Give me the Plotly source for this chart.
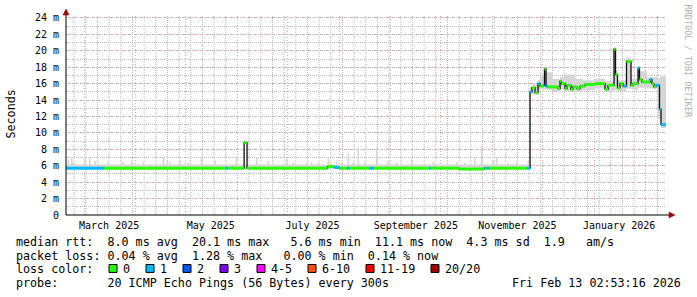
import plotly.graph_objects as go
import pandas as pd

# ---------------- data ----------------
range_start = "2025-02-18 02:53"
range_end = "2026-02-13 02:53"

med_dates = [
    "2025-02-18 02:53", "2025-03-13 00:00", "2025-05-25 00:00", "2025-05-26 06:00",
    "2025-06-05 00:00", "2025-06-06 18:00", "2025-07-25 00:00", "2025-07-29 00:00",
    "2025-08-01 00:00", "2025-08-06 00:00", "2025-08-07 00:00", "2025-08-19 00:00",
    "2025-08-21 12:00", "2025-09-24 00:00", "2025-09-25 00:00", "2025-10-12 00:00",
    "2025-10-27 00:00", "2025-10-28 00:00", "2025-10-29 00:00", "2025-10-30 00:00",
    "2025-11-22 00:00",
    "2025-11-23 13:00", "2025-11-24 17:00", "2025-11-26 13:00", "2025-11-28 08:00",
    "2025-11-29 13:00", "2025-12-01 08:00", "2025-12-02 05:00", "2025-12-03 03:00",
    "2025-12-04 08:00", "2025-12-10 08:00", "2025-12-11 13:00", "2025-12-12 10:00",
    "2025-12-14 13:00", "2025-12-15 17:00", "2025-12-18 03:00", "2025-12-19 08:00",
    "2025-12-21 17:00", "2025-12-23 13:00", "2025-12-26 13:00", "2026-01-01 13:00",
    "2026-01-07 13:00", "2026-01-09 08:00", "2026-01-12 22:00", "2026-01-13 20:00",
    "2026-01-15 00:00", "2026-01-16 13:00", "2026-01-18 08:00", "2026-01-20 10:00",
    "2026-01-23 03:00", "2026-01-24 08:00", "2026-01-27 08:00", "2026-01-28 05:00",
    "2026-01-29 17:00", "2026-02-03 13:00", "2026-02-04 17:00", "2026-02-05 22:00",
    "2026-02-07 03:00", "2026-02-09 05:00", "2026-02-10 03:00",
]
# median rtt in ms
med_vals = [
    5.7, 5.7, 5.7, 5.7,
    8.8, 5.7, 5.9, 5.8,
    5.7, 5.7, 5.7, 5.7,
    5.7, 5.7, 5.7, 5.6,
    5.7, 5.7, 5.7, 5.7,
    5.7,
    15.0, 15.5, 14.9, 16.0,
    15.7, 15.8, 17.8, 15.7,
    15.6, 15.4, 16.3, 16.0,
    15.4, 15.8, 15.3, 15.6,
    15.4, 15.7, 15.9, 16.0,
    15.3, 15.8, 20.2, 17.1,
    15.5, 16.0, 15.7, 18.7,
    15.8, 16.0, 17.9, 16.5,
    16.2, 16.5, 16.0, 15.6,
    15.8, 12.9, 11.0,
]
# loss class index per segment (0 -> "0", 1 -> "1", ...)
med_loss = [
    1, 0, 1, 0,
    0, 0, 0, 1,
    0, 1, 0, 1,
    0, 1, 0, 0,
    1, 0, 1, 0,
    1,
    1, 0, 0, 1,
    0, 1, 0, 1,
    0, 0, 0, 0,
    0, 0, 0, 0,
    0, 0, 0, 0,
    0, 0, 0, 0,
    0, 0, 1, 0,
    0, 0, 1, 0,
    0, 1, 0, 0,
    1, 1, 1,
]

# smoke (ping spread) for the low period
low_smoke_bottom = 5.6
low_smoke_top = 6.15
low_spike_dates = [
    "2025-02-19", "2025-02-21", "2025-02-22", "2025-03-01", "2025-03-04", "2025-03-07",
    "2025-03-15", "2025-03-24", "2025-03-29", "2025-04-05", "2025-04-17", "2025-04-21",
    "2025-04-27", "2025-05-02", "2025-05-10", "2025-05-18", "2025-05-31", "2025-06-12",
    "2025-06-19", "2025-06-30", "2025-07-04", "2025-07-12", "2025-07-15", "2025-07-19",
    "2025-07-25", "2025-07-30", "2025-08-02", "2025-08-06", "2025-08-09", "2025-08-12",
    "2025-08-16", "2025-08-23", "2025-08-30", "2025-09-04", "2025-09-13", "2025-09-26",
    "2025-10-10", "2025-10-15", "2025-10-21", "2025-10-25", "2025-11-01", "2025-11-03",
    "2025-11-10", "2025-11-15", "2025-11-22",
]
low_spike_tops = [
    6.8, 7.0, 6.4, 6.9, 6.9, 6.6,
    6.4, 6.5, 6.4, 6.4, 7.1, 6.5,
    6.6, 6.4, 7.0, 6.6, 7.0, 7.0,
    6.6, 6.9, 6.5, 6.4, 6.5, 6.4,
    6.9, 6.6, 6.4, 7.5, 6.4, 8.2,
    6.5, 8.2, 6.6, 6.4, 6.75, 6.5,
    6.5, 6.4, 7.0, 8.4, 6.6, 7.0,
    6.4, 6.5, 6.6,
]

# smoke for the high period
high_smoke_dates = [
    "2025-11-23 13:00", "2025-11-25 00:00", "2025-11-28 08:00", "2025-11-29 13:00",
    "2025-12-02 05:00", "2025-12-03 03:00", "2025-12-07 03:00", "2025-12-11 13:00",
    "2025-12-14 13:00", "2025-12-20 13:00", "2025-12-25 08:00", "2026-01-01 13:00",
    "2026-01-07 13:00", "2026-01-12 22:00", "2026-01-13 20:00", "2026-01-15 00:00",
    "2026-01-20 10:00", "2026-01-23 03:00", "2026-01-27 08:00", "2026-01-28 05:00",
    "2026-02-01 17:00", "2026-02-08 08:00", "2026-02-10 03:00",
]
high_smoke_lo = [14.8, 14.7, 15.2, 15.3, 15.3, 15.2, 15.1, 15.3, 15.1, 15.0, 15.2, 15.4,
                 15.0, 15.2, 15.2, 15.1, 15.4, 15.3, 15.5, 15.5, 15.4, 11.7, 10.6]
high_smoke_hi = [15.6, 16.0, 16.4, 16.9, 18.0, 17.4, 16.6, 16.8, 17.1, 16.6, 16.4, 16.6,
                 16.3, 20.0, 17.6, 16.4, 19.2, 16.6, 18.2, 17.5, 16.8, 16.7, 16.9]

y_tickvals = [0, 2, 4, 6, 8, 10, 12, 14, 16, 18, 20, 22, 24]
y_ticktext = ["0", "2 m", "4 m", "6 m", "8 m", "10 m", "12 m", "14 m", "16 m",
              "18 m", "20 m", "22 m", "24 m"]
month_label_dates = ["2025-03-16", "2025-05-16", "2025-07-16",
                     "2025-09-16", "2025-11-16", "2026-01-16"]
month_labels = ["March 2025", "May 2025", "July 2025",
                "September 2025", "November 2025", "January 2026"]
first_week_line = "2025-02-23"   # weekly grid runs on Sundays

loss_classes = ["0", "1", "2", "3", "4-5", "6-10", "11-19", "20/20"]
loss_colors = ["#26ff00", "#00b8ff", "#0059ff", "#7e00ff",
               "#ff00ff", "#ff5500", "#ff0000", "#a10000"]

line_rtt = "median rtt:  8.0 ms avg  20.1 ms max   5.6 ms min  11.1 ms now  4.3 ms sd  1.9   am/s"
line_loss = "packet loss: 0.04 % avg  1.28 % max   0.00 % min  0.14 % now"
line_color_label = "loss color:"
line_probe = "probe:       20 ICMP Echo Pings (56 Bytes) every 300s"
stamp = "Fri Feb 13 02:53:16 2026"
y_title = "Seconds"
watermark = "RRDTOOL / TOBI OETIKER"

# ---------------- geometry helpers ----------------
W, H = 697, 297
L, R, T, B = 66, 31, 14, 82
PW, PH = W - L - R, H - T - B
MONO = "DejaVu Sans Mono, monospace"
Y_TOP = 24.24


def px(x):
    return (x - L) / PW


def py(y):
    return (H - B - y) / PH


def nb(s):
    return s.replace(" ", "\u00a0")


fig = go.Figure()

# ---------------- smoke ----------------
sx, slo, shi = [], [], []
t = pd.Timestamp(range_start)
for d, top in zip(low_spike_dates, low_spike_tops):
    d = pd.Timestamp(d)
    if d > t:
        sx.append(t); slo.append(low_smoke_bottom); shi.append(low_smoke_top)
    sx.append(d); slo.append(low_smoke_bottom); shi.append(top)
    t = d + pd.Timedelta(days=1)
sx.append(t); slo.append(low_smoke_bottom); shi.append(low_smoke_top)
for d, lo, hi in zip(high_smoke_dates, high_smoke_lo, high_smoke_hi):
    sx.append(pd.Timestamp(d)); slo.append(lo); shi.append(hi)
sx.append(pd.Timestamp(range_end)); slo.append(high_smoke_lo[-1]); shi.append(high_smoke_hi[-1])
sx = [s.strftime("%Y-%m-%d %H:%M") for s in sx]

fig.add_trace(go.Scatter(x=sx, y=slo, mode="lines", line=dict(width=0, shape="hv"),
                         hoverinfo="skip", showlegend=False))
fig.add_trace(go.Scatter(x=sx, y=shi, mode="lines", line=dict(width=0, shape="hv"),
                         fill="tonexty", fillcolor="#d6d6d6", hoverinfo="skip",
                         showlegend=False))

# ---------------- median ----------------
fig.add_trace(go.Scatter(x=med_dates + [range_end], y=med_vals + [med_vals[-1]],
                         mode="lines", line=dict(color="#101010", width=1.3, shape="hv"),
                         hoverinfo="skip", showlegend=False))

seg_end = med_dates[1:] + [range_end]
for k, col in enumerate(loss_colors):
    xs, ys = [], []
    for d0, d1, v, l in zip(med_dates, seg_end, med_vals, med_loss):
        if l == k:
            xs += [d0, d1, None]
            ys += [v, v, None]
    if xs:
        fig.add_trace(go.Scatter(x=xs, y=ys, mode="lines",
                                 line=dict(color=col, width=3),
                                 hoverinfo="skip", showlegend=False))

# empty trace so the label axis exists
fig.add_trace(go.Scatter(x=[range_start], y=[None], xaxis="x2", mode="lines",
                         showlegend=False, hoverinfo="skip"))

grid_major = "#e6a8a8"
grid_minor = "#bbbbbb"

fig.update_layout(
    width=W, height=H,
    margin=dict(l=L, r=R, t=T, b=B, pad=0),
    paper_bgcolor="white", plot_bgcolor="white",
    showlegend=False,
    font=dict(family=MONO, size=10, color="#000"),
    xaxis=dict(
        type="date", range=[range_start, range_end],
        dtick="M1", tick0="2025-01-01",
        showgrid=True, gridcolor=grid_major, griddash="1px,2px", gridwidth=1,
        showticklabels=False, ticks="", showline=False, zeroline=False,
    ),
    xaxis2=dict(
        type="date", range=[range_start, range_end], overlaying="x", anchor="y",
        side="bottom", tickmode="array", tickvals=month_label_dates,
        ticktext=month_labels, showgrid=False, ticks="", showline=False,
        zeroline=False, tickfont=dict(family=MONO, size=10, color="#000"),
        ticklabelstandoff=3,
    ),
    yaxis=dict(
        range=[0, Y_TOP], tickmode="array", tickvals=y_tickvals, ticktext=y_ticktext,
        showgrid=True, gridcolor=grid_major, griddash="1px,2px", gridwidth=1,
        minor=dict(tickmode="linear", tick0=0, dtick=1, showgrid=True,
                   gridcolor=grid_minor, griddash="1px,1px", gridwidth=1),
        ticks="", showline=False, zeroline=False,
        tickfont=dict(family=MONO, size=10, color="#000"),
        ticklabelstandoff=6,
    ),
)

shapes = []
# weekly minor grid (vertical), below the data, in data coordinates of the main subplot
for wk in pd.date_range(first_week_line, range_end, freq="7D"):
    if wk.day == 1:
        continue
    d = wk.strftime("%Y-%m-%d")
    shapes.append(dict(type="line", xref="x", yref="y", x0=d, x1=d, y0=0, y1=Y_TOP,
                       layer="below", line=dict(color=grid_minor, width=1, dash="1px,1px")))

# ---------------- axes lines with arrows ----------------
arrow = "#990000"
shapes += [
    dict(type="line", xref="paper", yref="paper", x0=0, x1=0, y0=0, y1=py(12),
         line=dict(color="#000", width=1)),
    dict(type="line", xref="paper", yref="paper", x0=0, x1=px(670), y0=0, y1=0,
         line=dict(color="#000", width=1)),
    dict(type="path", xref="paper", yref="paper",
         path=f"M {px(63)} {py(13)} L {px(69)} {py(13)} L {px(66)} {py(7)} Z",
         fillcolor=arrow, line=dict(color=arrow, width=0.5)),
    dict(type="path", xref="paper", yref="paper",
         path=f"M {px(669)} {py(212)} L {px(669)} {py(218)} L {px(675)} {py(215)} Z",
         fillcolor=arrow, line=dict(color=arrow, width=0.5)),
]

# ---------------- legend boxes ----------------
box_x = 109
for lab, col in zip(loss_classes, loss_colors):
    shapes.append(dict(type="rect", xref="paper", yref="paper",
                       x0=px(box_x), x1=px(box_x + 8), y0=py(273), y1=py(265),
                       fillcolor=col, line=dict(color="#000", width=1)))
    label_x = box_x + 14
    fig.add_annotation(x=px(label_x), y=py(269.6), xref="paper", yref="paper",
                       text=nb(lab), showarrow=False, xanchor="left", yanchor="middle",
                       font=dict(family=MONO, size=11.7, color="#000"),
                       borderpad=0, borderwidth=0)
    box_x = label_x + 7 * len(lab) + 16

fig.update_layout(shapes=shapes)

# ---------------- text ----------------
def txt(s, x, y, size=11.7, color="#000", angle=0, xanchor="left"):
    fig.add_annotation(x=px(x), y=py(y), xref="paper", yref="paper", text=nb(s),
                       showarrow=False, xanchor=xanchor, yanchor="middle",
                       textangle=angle, font=dict(family=MONO, size=size, color=color),
                       borderpad=0, borderwidth=0)

txt(line_rtt, 16, 242.5)
txt(line_loss, 16, 256.1)
txt(line_color_label, 16, 269.6)
txt(line_probe, 16, 283.4)
txt(stamp, 681, 283.4, xanchor="right")
txt(y_title, 11, 113.5, angle=-90, xanchor="center")
txt(watermark, 688, 59, size=8.5, color="#b0b0b0", angle=90, xanchor="center")

fig.write_html("out.html")
